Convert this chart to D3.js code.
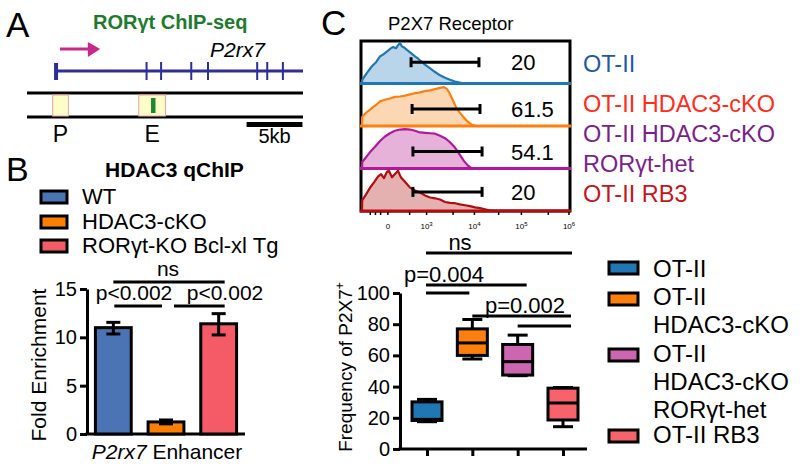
<!DOCTYPE html>
<html><head><meta charset="utf-8">
<script src="https://cdn.jsdelivr.net/npm/d3@7"></script>
<style>
body{margin:0;background:#fff}
svg{display:block}
text{font-family:'Liberation Sans',Arial,Helvetica,sans-serif;fill:#000}
</style>
</head><body>
<svg id="fig" width="800" height="471"></svg>
<script>
// ===================== DATA =====================
// Panel A: gene model (kb from TSS)
const exonKb = [0, 8.1, 9.4, 12.1, 13.6, 18.0, 18.9, 20.3];
const geneEndKb = 22.1;
const locusKb = [-2.6, 22.1];
const promoterKb = [-0.3, 1.1];
const enhancerKb = [7.4, 9.8];
const peakKb = [8.5, 8.9];
const scaleBarKb = [17.05, 22.05];
const regionLabels = ["P", "E"];

// Panel B: HDAC3 qChIP
const qchipGroups = ["WT", "HDAC3-cKO", "RORγt-KO Bcl-xl Tg"];
const qchipMean = [11.0, 1.25, 11.4];
const qchipLow = [10.35, 1.05, 10.25];
const qchipHigh = [11.55, 1.45, 12.45];
const qchipTicks = [0, 5, 10, 15];
const qchipColors = ["#4a74b4", "#ff8000", "#f45b66"];

// Panel C top: flow histograms (display channel 0-1000, height fraction of lane)
const flowGroups = ["OT-II", "OT-II HDAC3-cKO", "OT-II HDAC3-cKO RORγt-het", "OT-II RB3"];
const flowPercent = ["20", "61.5", "54.1", "20"];
const flowTickChannels = [125, 312, 543, 770, 1000];
const flowTickBase = ["0", "10", "10", "10", "10"];
const flowTickExp = ["", "3", "4", "5", "6"];
const flowMinorChannels = [40, 65, 90, 230, 440, 660, 900];
const gateStart = [237, 242, 246, 246];
const gateEnd = [565, 570, 580, 580];
const histOTII = [[0,0],[1,0.08],[5,0.12],[24,0.26],[48,0.42],[68,0.52],[87,0.66],[106,0.72],[126,0.8],[140,0.86],[150,0.89],[164,0.86],[174,0.93],[184,0.99],[193,0.9],[203,0.88],[217,0.82],[237,0.74],[256,0.66],[268,0.62],[280,0.56],[292,0.52],[304,0.46],[329,0.37],[353,0.28],[377,0.2],[401,0.14],[425,0.09],[449,0.05],[473,0.02],[498,0]];
const histHDAC3 = [[0,0],[1,0.22],[19,0.32],[39,0.4],[53,0.46],[72,0.53],[87,0.6],[111,0.64],[135,0.67],[159,0.71],[184,0.72],[208,0.74],[232,0.77],[256,0.8],[280,0.82],[304,0.85],[329,0.87],[353,0.9],[377,0.93],[396,0.95],[411,0.9],[425,0.78],[440,0.62],[454,0.46],[473,0.32],[493,0.2],[512,0.1],[531,0.03],[551,0]];
const histHet = [[0,0],[1,0.16],[19,0.27],[39,0.4],[63,0.53],[87,0.67],[111,0.78],[135,0.86],[159,0.92],[184,0.95],[208,0.96],[232,0.95],[256,0.92],[280,0.88],[304,0.87],[329,0.86],[353,0.85],[377,0.8],[401,0.74],[425,0.64],[449,0.51],[473,0.33],[493,0.18],[512,0.07],[531,0]];
const histRB3 = [[0,0],[1,0.26],[19,0.4],[39,0.57],[58,0.7],[77,0.84],[92,0.9],[106,0.8],[121,0.96],[130,0.98],[145,0.82],[159,0.9],[174,0.98],[188,0.82],[203,0.74],[217,0.66],[232,0.57],[256,0.5],[280,0.45],[304,0.38],[329,0.33],[353,0.31],[377,0.28],[401,0.22],[425,0.2],[449,0.19],[473,0.16],[498,0.14],[522,0.12],[546,0.09],[570,0.07],[594,0.04],[618,0.01],[643,0]];
const histData = [histOTII, histHDAC3, histHet, histRB3];
const histStroke = ["#1f77b4", "#ff7f0e", "#b3179b", "#b30d0d"];
const histFill = ["#b9d5ea", "#fbd8b3", "#e6b2da", "#e4b0b0"];
const histLegendLines = ["OT-II", "OT-II HDAC3-cKO", "OT-II HDAC3-cKO", "RORγt-het", "OT-II RB3"];
const histLegendColors = ["#1f5aa6", "#ff2d1a", "#7b1f8c", "#7b1f8c", "#c4161c"];

// Panel C bottom: box plots (Frequency of P2X7+)
const boxGroups = ["OT-II", "OT-II HDAC3-cKO", "OT-II HDAC3-cKO RORγt-het", "OT-II RB3"];
const boxMin = [17.5, 57.7, 47.0, 14.3];
const boxQ1 = [18.3, 60.0, 47.4, 18.6];
const boxMedian = [19.0, 68.0, 56.0, 29.5];
const boxQ3 = [30.2, 77.0, 67.0, 39.0];
const boxMax = [31.8, 83.0, 73.0, 39.4];
const boxTicks = [0, 20, 40, 60, 80, 100];
const boxColors = ["#1f77b4", "#ff7f0e", "#cc66b0", "#f8626b"];
const boxLegendLines = [["OT-II"], ["OT-II", "HDAC3-cKO"], ["OT-II", "HDAC3-cKO", "RORγt-het"], ["OT-II RB3"]];

// ===================== DRAWING =====================
const svg = d3.select("#fig");
const K = "#000";

function txt(g, x, y, s, size, opts = {}) {
  const t = g.append("text").attr("x", x).attr("y", y).attr("font-size", size).text(s);
  if (opts.anchor) t.attr("text-anchor", opts.anchor);
  if (opts.weight) t.attr("font-weight", opts.weight);
  if (opts.style) t.attr("font-style", opts.style);
  if (opts.fill) t.style("fill", opts.fill);
  return t;
}

// ---------- Panel A ----------
const A = svg.append("g");
txt(A, 6, 37, "A", 35);
txt(A, 93, 29, "RORγt ChIP-seq", 20, {weight: "bold", fill: "#1e7b2e"});
txt(A, 210, 57, "P2rx7", 21, {style: "italic"});
const xA = d3.scaleLinear().domain(locusKb).range([27, 303]);
// arrow
A.append("line").attr("x1", xA(0.35)).attr("x2", xA(3.3)).attr("y1", 49).attr("y2", 49)
  .attr("stroke", "#c8288c").attr("stroke-width", 3);
A.append("path").attr("d", `M${xA(2.85)},42 L${xA(3.95)},49 L${xA(2.85)},57 Z`).attr("fill", "#c8288c");
// gene line
A.append("line").attr("x1", xA(0)).attr("x2", xA(geneEndKb)).attr("y1", 71).attr("y2", 71)
  .attr("stroke", "#2e2e99").attr("stroke-width", 3);
A.selectAll("line.exon").data(exonKb).join("line").attr("class", "exon")
  .attr("x1", d => xA(d)).attr("x2", d => xA(d))
  .attr("y1", (d, i) => i === 0 ? 63 : 62).attr("y2", 80)
  .attr("stroke", "#2e2e99").attr("stroke-width", (d, i) => i === 0 ? 4 : 2);
// track
[93, 117].forEach(y => A.append("line").attr("x1", xA(locusKb[0])).attr("x2", xA(locusKb[1]))
  .attr("y1", y).attr("y2", y).attr("stroke", K).attr("stroke-width", 3));
[promoterKb, enhancerKb].forEach(r => A.append("rect").attr("x", xA(r[0])).attr("width", xA(r[1]) - xA(r[0]))
  .attr("y", 95).attr("height", 21).attr("fill", "#ffffc8").attr("stroke", "#f0a0a0").attr("stroke-width", 1));
A.append("rect").attr("x", xA(peakKb[0])).attr("width", xA(peakKb[1]) - xA(peakKb[0]))
  .attr("y", 98).attr("height", 15).attr("fill", "#1a8a32");
txt(A, (xA(promoterKb[0]) + xA(promoterKb[1])) / 2, 142, regionLabels[0], 23, {anchor: "middle"});
txt(A, (xA(enhancerKb[0]) + xA(enhancerKb[1])) / 2, 142, regionLabels[1], 23, {anchor: "middle"});
A.append("rect").attr("x", xA(scaleBarKb[0])).attr("width", xA(scaleBarKb[1]) - xA(scaleBarKb[0]))
  .attr("y", 122).attr("height", 5).attr("fill", K);
txt(A, (xA(scaleBarKb[0]) + xA(scaleBarKb[1])) / 2, 143, "5kb", 20, {anchor: "middle"});

// ---------- Panel B ----------
const B = svg.append("g");
txt(B, 6, 181, "B", 34);
txt(B, 105, 177, "HDAC3 qChIP", 21, {weight: "bold"});
const legRowB = [196, 221, 245];
qchipGroups.forEach((g, i) => {
  B.append("rect").attr("x", 41).attr("y", legRowB[i] - 5).attr("width", 26).attr("height", 12)
    .attr("fill", qchipColors[i]).attr("stroke", K).attr("stroke-width", 3);
  txt(B, 82, legRowB[i] + 7.5, g, 22);
});
const yB = d3.scaleLinear().domain([0, 15]).range([434, 289]);
const xB = d3.scaleBand().domain(qchipGroups).range([87, 245]).paddingInner(0.32).paddingOuter(0.16);
const yAxB = B.append("g").attr("transform", "translate(87,0)")
  .call(d3.axisLeft(yB).tickValues(qchipTicks).tickSize(7).tickPadding(3).tickSizeOuter(0));
yAxB.selectAll("path,line").attr("stroke", K).attr("stroke-width", 3);
yAxB.selectAll("text").attr("font-size", 20).style("font-family", "'Liberation Sans',Arial,sans-serif");
B.append("line").attr("x1", 85.5).attr("x2", 245).attr("y1", yB(0)).attr("y2", yB(0)).attr("stroke", K).attr("stroke-width", 3);
B.selectAll("rect.bar").data(qchipGroups).join("rect").attr("class", "bar")
  .attr("x", d => xB(d)).attr("width", xB.bandwidth())
  .attr("y", (d, i) => yB(qchipMean[i])).attr("height", (d, i) => yB(0) - yB(qchipMean[i]))
  .attr("fill", (d, i) => qchipColors[i]).attr("stroke", K).attr("stroke-width", 3);
qchipGroups.forEach((g, i) => {
  const cx = xB(g) + xB.bandwidth() / 2;
  B.append("line").attr("x1", cx).attr("x2", cx).attr("y1", yB(qchipLow[i])).attr("y2", yB(qchipHigh[i])).attr("stroke", K).attr("stroke-width", 3);
  [qchipLow[i], qchipHigh[i]].forEach(v => B.append("line").attr("x1", cx - 7).attr("x2", cx + 7)
    .attr("y1", yB(v)).attr("y2", yB(v)).attr("stroke", K).attr("stroke-width", 3));
});
const cB = i => xB(qchipGroups[i]) + xB.bandwidth() / 2;
B.append("line").attr("x1", cB(0)).attr("x2", cB(2) + 6).attr("y1", 282).attr("y2", 282).attr("stroke", K).attr("stroke-width", 3);
txt(B, (cB(0) + cB(2)) / 2 + 2, 276, "ns", 21, {anchor: "middle"});
B.append("line").attr("x1", cB(0) + 1).attr("x2", cB(1) - 4).attr("y1", 306).attr("y2", 306).attr("stroke", K).attr("stroke-width", 3);
B.append("line").attr("x1", cB(1) + 8).attr("x2", cB(2) + 6).attr("y1", 306).attr("y2", 306).attr("stroke", K).attr("stroke-width", 3);
txt(B, 134, 300, "p<0.002", 21, {anchor: "middle"});
txt(B, 225, 300, "p<0.002", 21, {anchor: "middle"});
B.append("text").attr("transform", "translate(46,365) rotate(-90)").attr("text-anchor", "middle").attr("font-size", 21).text("Fold Enrichment");
const xLabB = B.append("text").attr("x", 167).attr("y", 459).attr("text-anchor", "middle").attr("font-size", 21);
xLabB.append("tspan").attr("font-style", "italic").text("P2rx7");
xLabB.append("tspan").text(" Enhancer");

// ---------- Panel C top: histograms ----------
const C = svg.append("g");
txt(C, 321, 35, "C", 35);
txt(C, 388, 30, "P2X7 Receptor", 18.5);
const xF = d3.scaleLinear().domain([0, 1000]).range([362, 569]);
const lane = d3.scaleBand().domain(flowGroups).range([41, 211]);
const gateFrac = [0.5, 0.6, 0.6, 0.55];
C.append("rect").attr("x", 361).attr("y", 41).attr("width", 209).attr("height", 170)
  .attr("fill", "none").attr("stroke", K).attr("stroke-width", 3);
flowGroups.forEach((g, i) => {
  const top = lane(g), base = top + lane.bandwidth();
  const yL = d3.scaleLinear().domain([0, 1]).range([base, top + 1.5]);
  const area = d3.area().x(d => xF(d[0])).y0(base).y1(d => yL(d[1]));
  const line = d3.line().x(d => xF(d[0])).y(d => yL(d[1]));
  C.append("path").attr("d", area(histData[i])).attr("fill", histFill[i]);
  C.append("path").attr("d", line(histData[i])).attr("fill", "none").attr("stroke", histStroke[i]).attr("stroke-width", 2.2).attr("stroke-linejoin", "round");
  C.append("line").attr("x1", 360).attr("x2", 571).attr("y1", base).attr("y2", base).attr("stroke", histStroke[i]).attr("stroke-width", 3);
  const gy = top + gateFrac[i] * lane.bandwidth();
  C.append("line").attr("x1", xF(gateStart[i])).attr("x2", xF(gateEnd[i])).attr("y1", gy).attr("y2", gy).attr("stroke", K).attr("stroke-width", 3);
  [gateStart[i], gateEnd[i]].forEach(v => C.append("line").attr("x1", xF(v)).attr("x2", xF(v)).attr("y1", gy - 5).attr("y2", gy + 5).attr("stroke", K).attr("stroke-width", 3));
  txt(C, 511, gy + 8, flowPercent[i], 22);
});
// flow axis ticks & labels
flowTickChannels.concat(flowMinorChannels).forEach(v => C.append("line").attr("x1", xF(v)).attr("x2", xF(v))
  .attr("y1", 212).attr("y2", 215).attr("stroke", K).attr("stroke-width", 1.5));
flowTickChannels.forEach((v, i) => {
  const t = C.append("text").attr("x", xF(v)).attr("y", 229).attr("text-anchor", "middle").attr("font-size", 8);
  t.append("tspan").text(flowTickBase[i]);
  if (flowTickExp[i]) t.append("tspan").attr("font-size", 6).attr("dy", -3).text(flowTickExp[i]);
});
const histLegY = [72, 112, 142, 172, 202];
histLegendLines.forEach((s, i) => txt(C, 583, histLegY[i], s, 23.5, {fill: histLegendColors[i]}));

// ---------- Panel C bottom: box plots ----------
const yC = d3.scaleLinear().domain([0, 100]).range([449, 293]);
const xC = d3.scalePoint().domain(boxGroups).range([427, 563]);
const yAxC = C.append("g").attr("transform", "translate(400,0)")
  .call(d3.axisLeft(yC).tickValues(boxTicks).tickSize(7).tickPadding(3).tickSizeOuter(0));
yAxC.selectAll("path,line").attr("stroke", K).attr("stroke-width", 3);
yAxC.selectAll("text").attr("font-size", 20).style("font-family", "'Liberation Sans',Arial,sans-serif");
C.append("line").attr("x1", 398.5).attr("x2", 587).attr("y1", yC(0)).attr("y2", yC(0)).attr("stroke", K).attr("stroke-width", 3);
const xAxC = C.append("g").attr("transform", `translate(0,${yC(0)})`)
  .call(d3.axisBottom(xC).tickSize(7).tickFormat(""));
xAxC.select(".domain").remove();
xAxC.selectAll("line").attr("stroke", K).attr("stroke-width", 3);
const bw = 30;
boxGroups.forEach((g, i) => {
  const cx = xC(g);
  C.append("line").attr("x1", cx).attr("x2", cx).attr("y1", yC(boxMin[i])).attr("y2", yC(boxMax[i])).attr("stroke", K).attr("stroke-width", 3);
  [boxMin[i], boxMax[i]].forEach(v => C.append("line").attr("x1", cx - 10).attr("x2", cx + 10)
    .attr("y1", yC(v)).attr("y2", yC(v)).attr("stroke", K).attr("stroke-width", 3));
  C.append("rect").attr("x", cx - bw / 2).attr("width", bw).attr("y", yC(boxQ3[i])).attr("height", yC(boxQ1[i]) - yC(boxQ3[i]))
    .attr("fill", boxColors[i]).attr("stroke", K).attr("stroke-width", 3);
  C.append("line").attr("x1", cx - bw / 2).attr("x2", cx + bw / 2).attr("y1", yC(boxMedian[i])).attr("y2", yC(boxMedian[i])).attr("stroke", K).attr("stroke-width", 3);
});
const cC = i => xC(boxGroups[i]);
function sig(x1, x2, y) { C.append("line").attr("x1", x1).attr("x2", x2).attr("y1", y).attr("y2", y).attr("stroke", K).attr("stroke-width", 3); }
sig(cC(0) - 1, cC(3) + 9, 253);
txt(C, 460, 250, "ns", 22, {anchor: "middle"});
sig(cC(0) - 1, cC(2) + 9, 285);
sig(cC(0) - 1, cC(1) - 3, 293);
txt(C, 444, 282, "p=0.004", 22, {anchor: "middle"});
sig(cC(1), cC(3) + 8, 316);
sig(cC(2), cC(3) + 8, 326);
txt(C, 525, 313, "p=0.002", 22, {anchor: "middle"});
const yLabC = C.append("text").attr("transform", "translate(352,367) rotate(-90)").attr("text-anchor", "middle").attr("font-size", 19);
yLabC.append("tspan").text("Frequency of P2X7");
yLabC.append("tspan").attr("font-size", 12).attr("dy", -8).text("+");
// legend
const boxLegCenter = [268, 299, 355, 436];
const rowY = [277, 305, 333, 362, 390, 418, 443];
let r = 0;
boxGroups.forEach((g, i) => {
  C.append("rect").attr("x", 609).attr("y", boxLegCenter[i] - 6).attr("width", 29).attr("height", 12)
    .attr("fill", boxColors[i]).attr("stroke", K).attr("stroke-width", 3);
  boxLegendLines[i].forEach(s => { txt(C, 653, rowY[r], s, 24); r++; });
});
</script>
</body></html>
